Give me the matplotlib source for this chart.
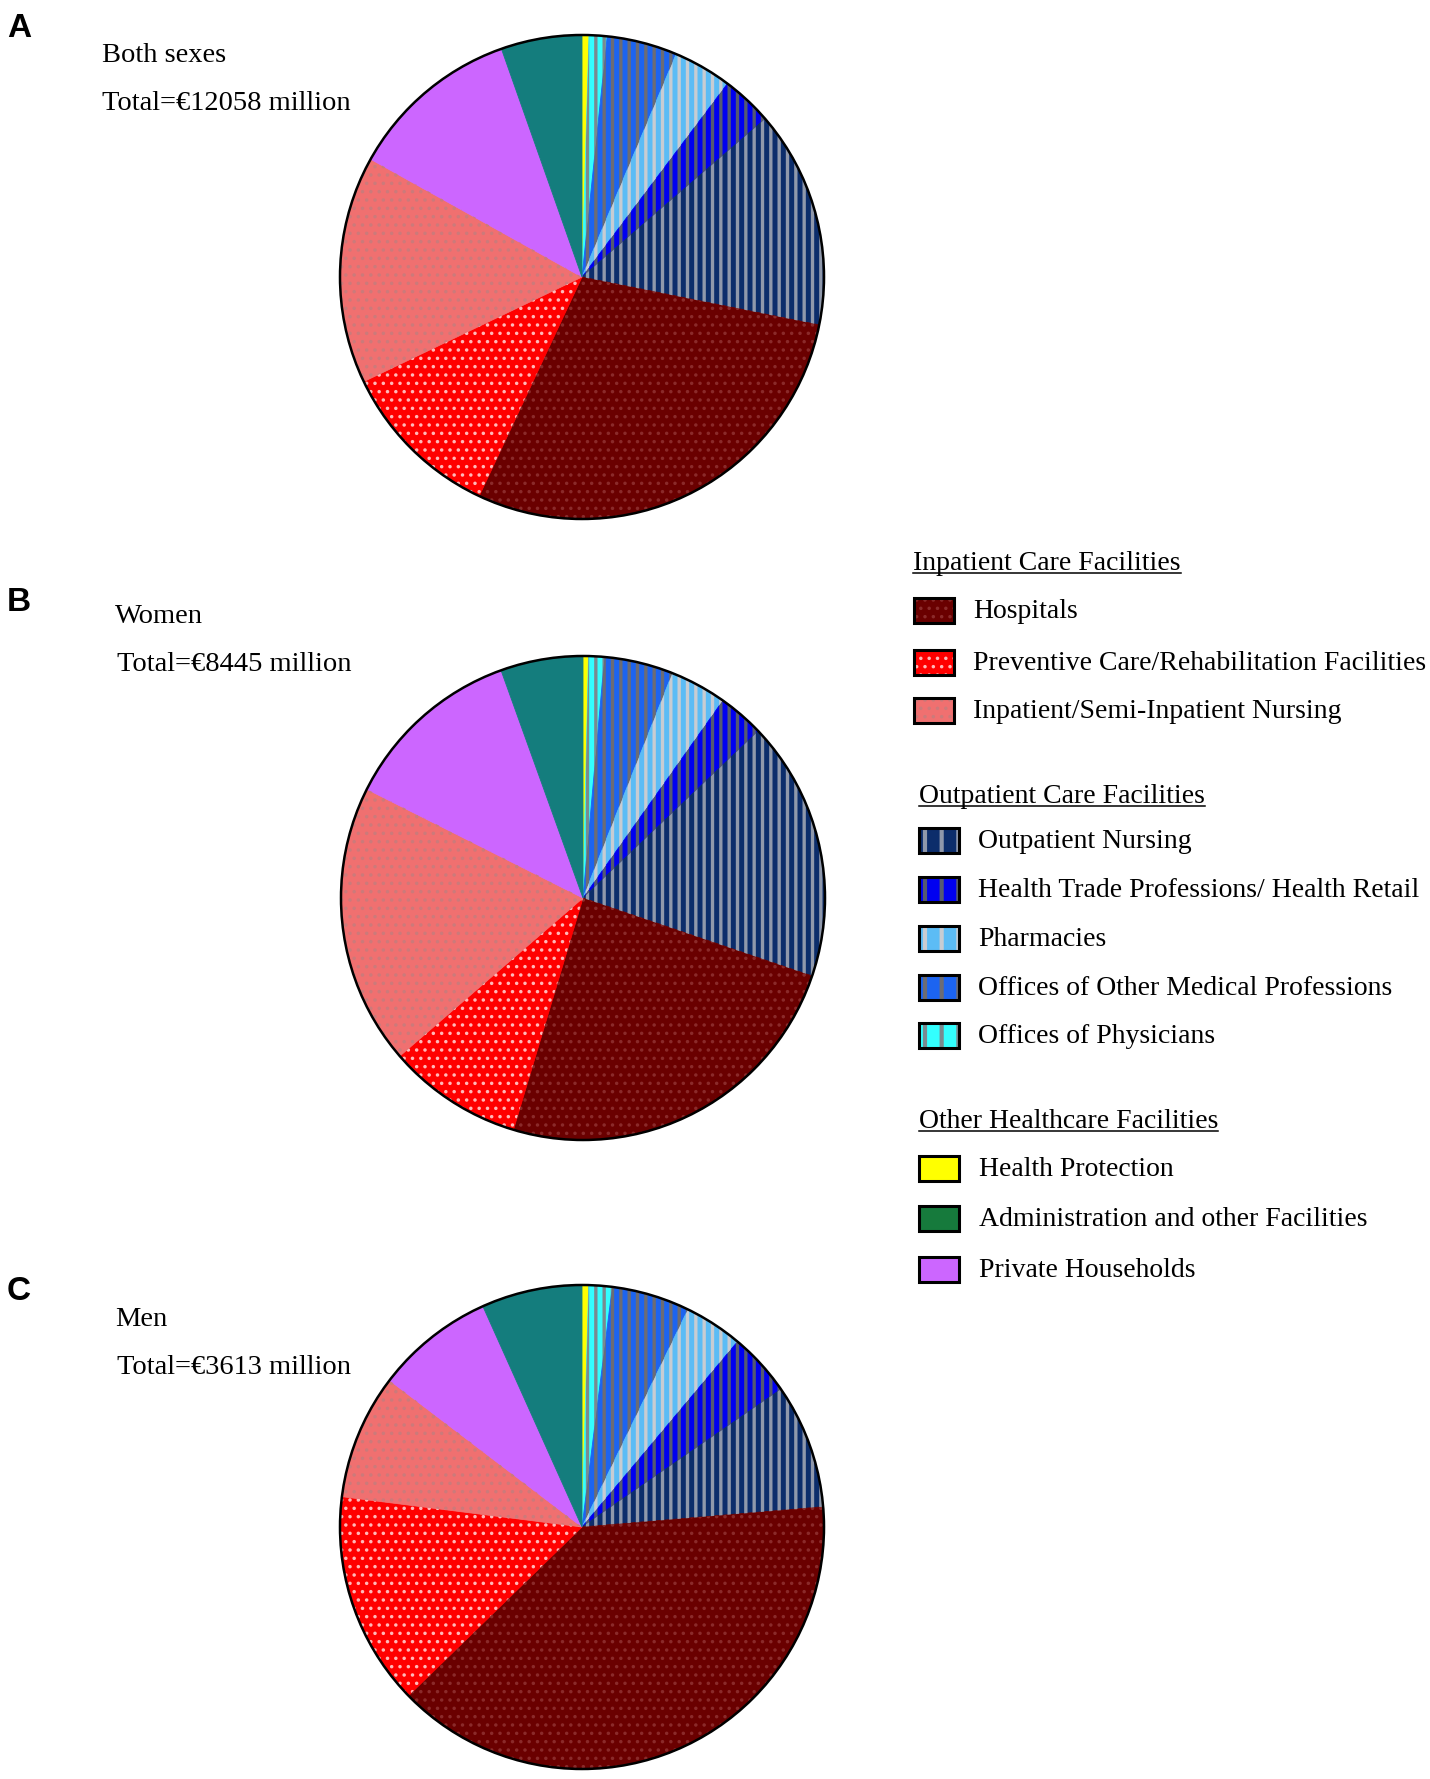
import matplotlib
matplotlib.use("Agg")
import matplotlib.pyplot as plt
from matplotlib.patches import Circle, Rectangle

# slices in clockwise order starting at 12 o'clock (shares in %)
categories = ['Health Protection', 'Offices of Physicians',
              'Offices of Other Medical Professions', 'Pharmacies',
              'Health Trade Professions/ Health Retail', 'Outpatient Nursing',
              'Hospitals', 'Preventive Care/Rehabilitation Facilities',
              'Inpatient/Semi-Inpatient Nursing', 'Private Households',
              'Administration and other Facilities']
both_sexes = [0.46, 1.2, 4.7, 3.9, 3.4, 14.5, 28.8, 10.9, 15.2, 11.5, 5.4]
women = [0.36, 1.06, 4.61, 3.78, 3.08, 17.33, 24.42, 9.03, 18.75, 12.08, 5.5]
men = [0.44, 1.56, 5.22, 3.89, 4.25, 8.31, 39.06, 14.28, 8.36, 7.92, 6.72]

panel_letters = ['A', 'B', 'C']
panel_groups = ['Both sexes', 'Women', 'Men']
panel_totals = ['Total=€12058 million', 'Total=€8445 million', 'Total=€3613 million']

legend_headers = ['Inpatient Care Facilities', 'Outpatient Care Facilities',
                  'Other Healthcare Facilities']
legend_items = [
    ['Hospitals', 'Preventive Care/Rehabilitation Facilities',
     'Inpatient/Semi-Inpatient Nursing'],
    ['Outpatient Nursing', 'Health Trade Professions/ Health Retail', 'Pharmacies',
     'Offices of Other Medical Professions', 'Offices of Physicians'],
    ['Health Protection', 'Administration and other Facilities', 'Private Households'],
]

# face colour, hatch, hatch colour
styles = {
    'Hospitals': ('#6a0000', '..', '#8a2a2a'),
    'Preventive Care/Rehabilitation Facilities': ('#ff0000', '..', '#ffb8b8'),
    'Inpatient/Semi-Inpatient Nursing': ('#f07070', '..', '#cc7a7a'),
    'Outpatient Nursing': ('#0c2d6b', '||', '#8f98ab'),
    'Health Trade Professions/ Health Retail': ('#0000f0', '||', '#555a70'),
    'Pharmacies': ('#5cbcf5', '||', '#c8ccd2'),
    'Offices of Other Medical Professions': ('#1c64f0', '||', '#6c6c74'),
    'Offices of Physicians': ('#33ffff', '||', '#7a8a90'),
    'Health Protection': ('#ffff00', None, None),
    'Administration and other Facilities': ('#147d7d', None, None),
    'Private Households': ('#cc66ff', None, None),
}
legend_face = {'Administration and other Facilities': '#167a3c'}

W, H = 1430, 1779
plt.rcParams['hatch.linewidth'] = 2.2
serif = 'Liberation Serif'

fig = plt.figure(figsize=(W / 100, H / 100), dpi=100)


def set_hatch(p, hatch, hcolor, lw):
    p.set_hatch(hatch)
    p.set_edgecolor(hcolor)
    if hasattr(p, 'set_hatch_linewidth'):
        p.set_hatch_linewidth(lw)


def draw_pie(cx, cy, r, values):
    pad = 1.04
    ax = fig.add_axes([(cx - r * pad) / W, (H - cy - r * pad) / H,
                       2 * r * pad / W, 2 * r * pad / H])
    faces = [styles[c][0] for c in categories]
    wedges, _ = ax.pie(values, colors=faces, startangle=90, counterclock=False,
                       wedgeprops=dict(linewidth=0.6))
    for w, f in zip(wedges, faces):
        w.set_edgecolor(f)
    top, _ = ax.pie(values, colors=['none'] * len(values), startangle=90,
                    counterclock=False, wedgeprops=dict(linewidth=0))
    for w, c in zip(top, categories):
        face, hatch, hcolor = styles[c]
        if hatch:
            set_hatch(w, hatch, hcolor, 1.3 if hatch == '..' else 2.4)
        else:
            w.set_visible(False)
    ax.add_patch(Circle((0, 0), 1, fill=False, edgecolor='black', lw=1.8))
    ax.set_xlim(-pad, pad)
    ax.set_ylim(-pad, pad)
    ax.set_aspect('equal')
    ax.axis('off')


centers = [(582, 277), (583, 898), (582, 1527)]
radius = 242
for (cx, cy), vals in zip(centers, [both_sexes, women, men]):
    draw_pie(cx, cy, radius, vals)

# overlay in pixel coordinates for texts and legend
ov = fig.add_axes([0, 0, 1, 1])
ov.set_xlim(0, W)
ov.set_ylim(H, 0)
ov.axis('off')

letter_y = [37, 611, 1300]
group_pos = [(102, 62), (115, 623), (115, 1326)]
total_pos = [(102, 110), (117, 671), (117, 1374)]
for i in range(3):
    ov.text(7, letter_y[i], panel_letters[i], fontsize=24, fontweight='bold',
            family='Liberation Sans', va='baseline', ha='left')
    ov.text(group_pos[i][0], group_pos[i][1], panel_groups[i], fontsize=20.5,
            family=serif, va='baseline', ha='left')
    ov.text(total_pos[i][0], total_pos[i][1], panel_totals[i], fontsize=20.5,
            family=serif, va='baseline', ha='left')

# legend
header_pos = [(913, 570), (919, 803), (919, 1128)]
box_x = [914, 919, 919]
text_x = [973, 978, 979]
row_y = [[610, 662, 710], [840, 889, 938, 987, 1035], [1168, 1218, 1269]]
box_w, box_h = 40, 25

renderer = fig.canvas.get_renderer()
for g in range(3):
    hx, hy = header_pos[g]
    t = ov.text(hx, hy, legend_headers[g], fontsize=20, family=serif,
                va='baseline', ha='left')
    wpx = t.get_window_extent(renderer).width
    ov.plot([hx, hx + wpx], [hy + 3, hy + 3], color='black', lw=1.1)
    for name, y in zip(legend_items[g], row_y[g]):
        face, hatch, hcolor = styles[name]
        face = legend_face.get(name, face)
        x0, y0 = box_x[g], y - box_h / 2
        ov.add_patch(Rectangle((x0, y0), box_w, box_h, facecolor=face,
                               edgecolor='none'))
        if hatch:
            hp = Rectangle((x0, y0), box_w, box_h, facecolor='none', lw=0)
            set_hatch(hp, '|' if hatch == '||' else hatch, hcolor,
                      1.3 if hatch == '..' else 3.0)
            ov.add_patch(hp)
        ov.add_patch(Rectangle((x0, y0), box_w, box_h, fill=False,
                               edgecolor='black', lw=2.2))
        ov.text(text_x[g], y + 8, name, fontsize=20, family=serif,
                va='baseline', ha='left')

fig.savefig('out.png', dpi=100)
